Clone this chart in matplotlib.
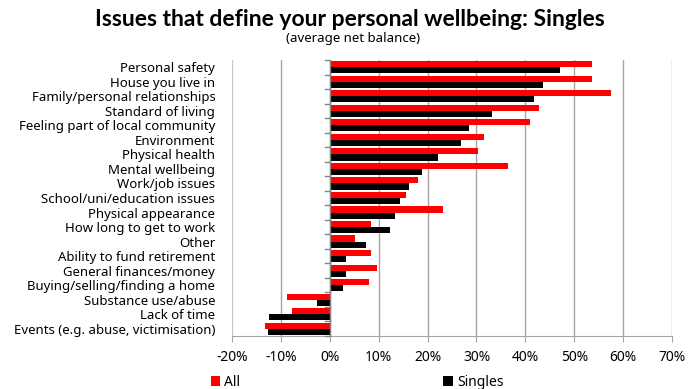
import numpy as np
import matplotlib.pyplot as plt
from matplotlib.ticker import FuncFormatter

plt.rcParams['font.family'] = ['Noto Sans', 'DejaVu Sans']

categories = [
    'Personal safety', 'House you live in', 'Family/personal relationships',
    'Standard of living', 'Feeling part of local community', 'Environment',
    'Physical health', 'Mental wellbeing', 'Work/job issues',
    'School/uni/education issues', 'Physical appearance', 'How long to get to work',
    'Other', 'Ability to fund retirement', 'General finances/money',
    'Buying/selling/finding a home', 'Substance use/abuse', 'Lack of time',
    'Events (e.g. abuse, victimisation)',
]
all_vals = [53.6, 53.6, 57.6, 42.8, 41.0, 31.5, 30.4, 36.5, 18.0, 15.6,
            23.2, 8.5, 5.1, 8.5, 9.7, 8.1, -8.7, -7.8, -13.3]
singles_vals = [47.1, 43.6, 41.8, 33.2, 28.5, 26.8, 22.2, 18.8, 16.2, 14.4,
                13.4, 12.4, 7.4, 3.3, 3.3, 2.7, -2.7, -12.4, -12.6]

fig = plt.figure(figsize=(6.99, 3.89), dpi=100)
ax = fig.add_axes([232 / 699, 1 - 336 / 389, 440 / 699, 276 / 389])

y = np.arange(len(categories))
h = 0.42
ax.barh(y - h / 2, all_vals, height=h, color='#ff0000', label='All', zorder=3)
ax.barh(y + h / 2, singles_vals, height=h, color='#000000', label='Singles', zorder=3)

ax.set_xlim(-20, 70)
ax.set_ylim(len(categories) - 0.5, -0.5)
ax.set_xticks(np.arange(-20, 71, 10))
ax.xaxis.set_major_formatter(FuncFormatter(lambda v, p: f'{v:.0f}%'))
ax.grid(axis='x', color='#a6a6a6', linewidth=1, zorder=0)
# leftmost gridline is a little lighter
ax.get_xgridlines()[0].set_color('#c8c8c8')

for s in ['top', 'right', 'left']:
    ax.spines[s].set_visible(False)
ax.spines['bottom'].set_color('#a6a6a6')
ax.tick_params(axis='x', colors='#a6a6a6', length=4, labelcolor='black',
               labelsize=10, pad=6)

# category labels on the left, axis line drawn at zero
ax.set_yticks(y)
ax.set_yticklabels(categories, fontsize=9.5)
ax.tick_params(axis='y', length=0, pad=12)
ax.axvline(0, color='#868686', linewidth=1, zorder=4)
for b in np.arange(-0.5, len(categories), 1):
    ax.plot([-0.9, 0], [b, b], color='#868686', linewidth=1, zorder=4,
            clip_on=False)

fig.text(0.5, 1 - 26 / 389, 'Issues that define your personal wellbeing: Singles',
         ha='center', va='baseline', fontsize=16.5, fontweight='bold',
         family='Lato')
fig.text(0.505, 1 - 42 / 389, '(average net balance)', ha='center',
         va='baseline', fontsize=9.5)

fig.legend(loc='lower left', bbox_to_anchor=(198 / 699, -0.035), ncol=2,
           frameon=False, handlelength=0.7, handleheight=0.7,
           handletextpad=0.3, columnspacing=14.6, fontsize=10)

fig.savefig('out.png', dpi=100)
